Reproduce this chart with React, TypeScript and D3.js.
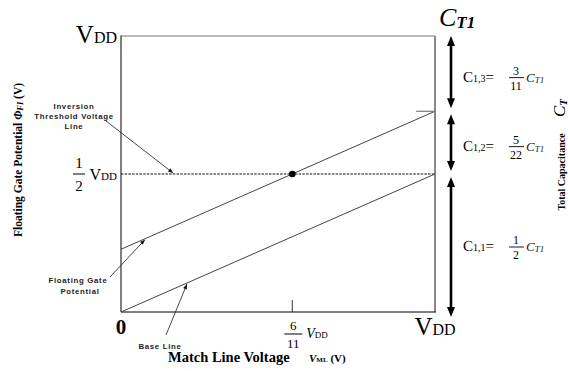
import React from "react";
import * as d3 from "d3";

// Values are expressed as fractions of VDD (voltages) and of C_T1 (capacitances)
const matchLineDomain = [0, 1];
const baseLineValues = [0, 0.5];
const c11 = 1 / 2;
const c12 = 5 / 22;
const c13 = 3 / 11;
const floatingGateValues = [c12, c12 + 0.5];
const thresholdLevel = 0.5;
const crossingPoint = 6 / 11;
const capNames = ["1,1", "1,2", "1,3"];
const capNumerators = ["1", "5", "3"];
const capDenominators = ["2", "22", "11"];
const capValues = [c11, c12, c13];

const SERIF = "'Liberation Serif', 'Times New Roman', serif";
const SANS = "'Liberation Sans', Arial, sans-serif";

const W = 568;
const H = 371;

function arrowHead(x1: number, y1: number, x2: number, y2: number, len: number, half: number) {
  const a = Math.atan2(y2 - y1, x2 - x1);
  const bx = x2 - len * Math.cos(a);
  const by = y2 - len * Math.sin(a);
  const px = -Math.sin(a) * half;
  const py = Math.cos(a) * half;
  return `${x2},${y2} ${bx + px},${by + py} ${bx - px},${by - py}`;
}

function Pointer({ from, to }: { from: [number, number]; to: [number, number] }) {
  return (
    <g>
      <line x1={from[0]} y1={from[1]} x2={to[0]} y2={to[1]} stroke="#333" strokeWidth={0.9} />
      <polygon points={arrowHead(from[0], from[1], to[0], to[1], 5, 2)} fill="#111" />
    </g>
  );
}

export default function App() {
  const x = d3.scaleLinear().domain([0, 1]).range([121, 435]);
  const y = d3.scaleLinear().domain([0, 1]).range([312, 36]);
  const line = d3
    .line<[number, number]>()
    .x((d) => x(d[0]))
    .y((d) => y(d[1]));

  const basePts: [number, number][] = matchLineDomain.map((v, i) => [v, baseLineValues[i]]);
  const fgPts: [number, number][] = matchLineDomain.map((v, i) => [v, floatingGateValues[i]]);
  const fgAt = d3.scaleLinear().domain(matchLineDomain).range(floatingGateValues);
  const baseAt = d3.scaleLinear().domain(matchLineDomain).range(baseLineValues);

  // stacked capacitance segments, bottom to top
  const bounds = d3.cumsum(capValues);
  const segs = capValues.map((v, i) => ({
    lo: i === 0 ? 0 : bounds[i - 1],
    hi: bounds[i],
    name: capNames[i],
    num: capNumerators[i],
    den: capDenominators[i],
  }));
  const arrowX = 451;

  const fgTarget = 0.076;
  const baseTarget = 0.21;
  const invTarget = 0.166;

  return (
    <div style={{ position: "absolute", left: 0, top: 0 }}>
      <svg width={W} height={H} style={{ display: "block", background: "#fff" }}>
        {/* plot frame */}
        <line x1={x(0)} y1={y(1)} x2={x(1)} y2={y(1)} stroke="#777" strokeWidth={1.2} />
        <line x1={x(1)} y1={y(1)} x2={x(1)} y2={y(0)} stroke="#888" strokeWidth={2} />
        <line x1={x(0)} y1={y(1) - 0.5} x2={x(0)} y2={y(0)} stroke="#000" strokeWidth={1} />
        <line x1={x(0)} y1={y(0)} x2={x(1) + 1} y2={y(0)} stroke="#000" strokeWidth={1} />

        {/* inversion threshold */}
        <line
          x1={x(0)}
          y1={y(thresholdLevel)}
          x2={x(1)}
          y2={y(thresholdLevel)}
          stroke="#111"
          strokeWidth={1}
          strokeDasharray="2.5,1.2"
        />

        {/* base line and floating gate potential */}
        <path d={line(basePts) ?? ""} fill="none" stroke="#444" strokeWidth={1} />
        <path d={line(fgPts) ?? ""} fill="none" stroke="#444" strokeWidth={1} />

        {/* marker ticks */}
        <line x1={x(crossingPoint)} y1={y(0)} x2={x(crossingPoint)} y2={y(0) - 12} stroke="#333" strokeWidth={1} />
        <line x1={x(0.94)} y1={y(c11 + c12)} x2={x(1)} y2={y(c11 + c12)} stroke="#777" strokeWidth={1.2} />

        <circle cx={x(crossingPoint)} cy={y(thresholdLevel)} r={3.3} fill="#000" />

        {/* annotations */}
        <Pointer from={[106, 121]} to={[x(invTarget), y(thresholdLevel) - 1]} />
        <Pointer from={[110, 277]} to={[x(fgTarget), y(fgAt(fgTarget)) + 1]} />
        <Pointer from={[166, 335]} to={[x(baseTarget), y(baseAt(baseTarget)) + 1]} />

        <g fontFamily={SANS} fontWeight="bold" fontSize={7.8} letterSpacing={0.7} fill="#222" textAnchor="middle">
          <text x={74} y={109}>Inversion</text>
          <text x={74} y={119}>Threshold  Voltage</text>
          <text x={74} y={129}>Line</text>
          <text x={78} y={283}>Floating Gate</text>
          <text x={80} y={294}>Potential</text>
          <text x={160} y={349}>Base Line</text>
        </g>

        {/* y-axis tick labels */}
        <text x={117} y={43} fontFamily={SERIF} textAnchor="end" fill="#000">
          <tspan fontSize={25}>V</tspan>
          <tspan fontSize={16}>DD</tspan>
        </text>
        <g fontFamily={SERIF} fill="#000">
          <text x={79} y={168} fontSize={15} textAnchor="middle">1</text>
          <line x1={73} y1={174} x2={85} y2={174} stroke="#000" strokeWidth={1} />
          <text x={79} y={191} fontSize={15} textAnchor="middle">2</text>
          <text x={117} y={180} textAnchor="end">
            <tspan fontSize={16}>V</tspan>
            <tspan fontSize={11}>DD</tspan>
          </text>
        </g>

        {/* x-axis tick labels */}
        <text x={x(0)} y={334} fontFamily={SERIF} fontSize={21} fontWeight="bold" textAnchor="middle">0</text>
        <g fontFamily={SERIF} fill="#000">
          <text x={x(crossingPoint) + 1} y={330} fontSize={13} textAnchor="middle">6</text>
          <line x1={x(crossingPoint) - 8} y1={334} x2={x(crossingPoint) + 10} y2={334} stroke="#000" strokeWidth={1} />
          <text x={x(crossingPoint) + 1} y={348} fontSize={13} textAnchor="middle">11</text>
          <text x={x(crossingPoint) + 14} y={338}>
            <tspan fontSize={14} fontStyle="italic">V</tspan>
            <tspan fontSize={9}>DD</tspan>
          </text>
        </g>
        <text x={x(1)} y={335} fontFamily={SERIF} textAnchor="middle" fill="#000">
          <tspan fontSize={25}>V</tspan>
          <tspan fontSize={16}>DD</tspan>
        </text>

        {/* axis titles */}
        <text
          transform="translate(22,160) rotate(-90)"
          fontFamily={SERIF}
          fontWeight="bold"
          fontSize={11.5}
          textAnchor="middle"
          fill="#000"
        >
          Floating Gate Potential{"  "}
          <tspan fontStyle="italic">Φ</tspan>
          <tspan fontSize={8.5} fontStyle="italic" dy={1}>FI</tspan>
          <tspan dy={-1}> (V)</tspan>
        </text>
        <text x={168} y={362} fontFamily={SERIF} fontWeight="bold" fontSize={14.5} fill="#000">
          Match Line Voltage
        </text>
        <text x={309} y={362} fontFamily={SERIF} fontWeight="bold" fill="#000">
          <tspan fontSize={11} fontStyle="italic">V</tspan>
          <tspan fontSize={7}>ML</tspan>
          <tspan fontSize={11}> (V)</tspan>
        </text>

        {/* total capacitance stack */}
        <text x={arrowX - 12} y={26} fontFamily={SERIF} fontStyle="italic" fill="#000">
          <tspan fontSize={26}>C</tspan>
          <tspan fontSize={17} fontWeight="bold" dy={2}>T1</tspan>
        </text>
        {segs.map((s, i) => {
          const top = y(s.hi) + (s.hi >= 0.999 ? 0 : 3);
          const bot = y(s.lo) - (s.lo <= 0.001 ? -5 : 3);
          const mid = (y(s.hi) + y(s.lo)) / 2 + 4;
          return (
            <g key={i}>
              <line x1={arrowX} y1={top + 8} x2={arrowX} y2={bot - 8} stroke="#000" strokeWidth={2.6} />
              <polygon points={arrowHead(arrowX, bot - 10, arrowX, top, 10, 4)} fill="#000" />
              <polygon points={arrowHead(arrowX, top + 10, arrowX, bot, 10, 4)} fill="#000" />
              <text x={463} y={mid + 4} fontFamily={SERIF} fill="#000">
                <tspan fontSize={15}>C</tspan>
                <tspan fontSize={10}>{s.name}</tspan>
                <tspan fontSize={15}>=</tspan>
              </text>
              <text x={516} y={mid - 3} fontFamily={SERIF} fontSize={12} textAnchor="middle">{s.num}</text>
              <line x1={509} y1={mid} x2={524} y2={mid} stroke="#000" strokeWidth={0.9} />
              <text x={516} y={mid + 12} fontFamily={SERIF} fontSize={12} textAnchor="middle">{s.den}</text>
              <text x={526} y={mid + 4} fontFamily={SERIF} fontStyle="italic" fill="#222">
                <tspan fontSize={13}>C</tspan>
                <tspan fontSize={9} dy={1}>T1</tspan>
              </text>
            </g>
          );
        })}
        <text transform="translate(565,108) rotate(-90)" fontFamily={SERIF} fontStyle="italic" textAnchor="middle" fill="#000">
          <tspan fontSize={17}>C</tspan>
          <tspan fontSize={11} fontWeight="bold" dy={2}>T</tspan>
        </text>
        <text
          transform="translate(565,172) rotate(-90)"
          fontFamily={SERIF}
          fontWeight="bold"
          fontSize={10}
          textAnchor="middle"
          fill="#000"
        >
          Total Capacitance
        </text>
      </svg>
    </div>
  );
}
